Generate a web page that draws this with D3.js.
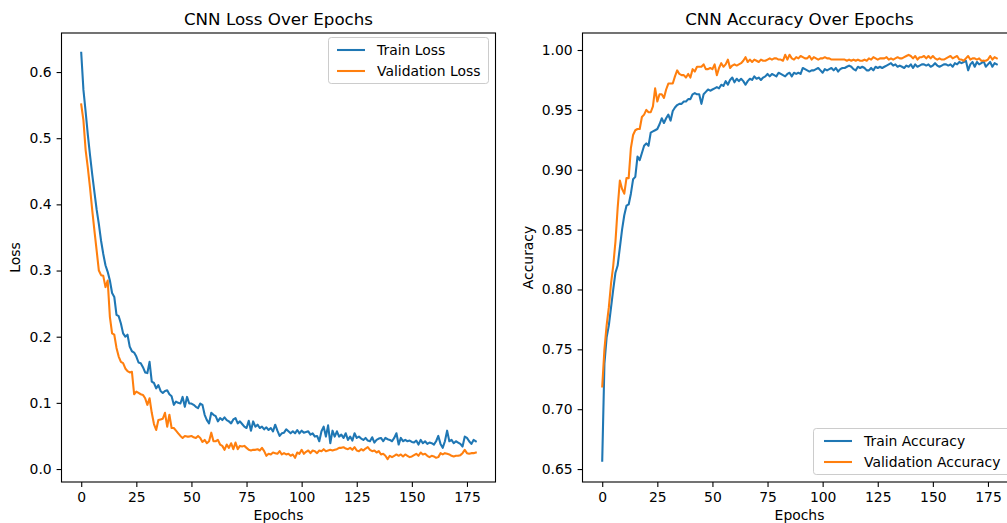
<!DOCTYPE html>
<html>
<head>
<meta charset="utf-8">
<script src="https://cdn.jsdelivr.net/npm/d3@7"></script>
<style>
  html, body { margin: 0; padding: 0; background: #fff; }
  svg { display: block; font-family: "DejaVu Sans", sans-serif; }
</style>
</head>
<body>
<svg id="chart" width="1007" height="523"></svg>
<script>
// Per-epoch training history of the CNN (epochs 0..179)
const trainLoss = [
0.629,0.573,0.540,0.505,0.474,0.445,0.418,0.392,0.370,0.345,
0.325,0.308,0.298,0.285,0.266,0.260,0.233,0.231,0.220,0.205,
0.200,0.203,0.185,0.178,0.176,0.170,0.161,0.160,0.154,0.146,
0.145,0.162,0.132,0.130,0.122,0.127,0.118,0.115,0.118,0.119,
0.113,0.110,0.097,0.102,0.100,0.099,0.109,0.094,0.109,0.099,
0.099,0.097,0.094,0.092,0.099,0.097,0.082,0.074,0.069,0.085,
0.082,0.080,0.072,0.077,0.074,0.078,0.074,0.072,0.069,0.075,
0.077,0.069,0.072,0.068,0.064,0.062,0.073,0.058,0.072,0.064,
0.067,0.062,0.064,0.060,0.063,0.059,0.062,0.057,0.067,0.058,
0.050,0.054,0.055,0.060,0.057,0.054,0.057,0.054,0.059,0.054,
0.058,0.055,0.056,0.057,0.052,0.054,0.049,0.050,0.042,0.057,
0.064,0.049,0.066,0.039,0.058,0.049,0.057,0.049,0.052,0.047,
0.054,0.044,0.049,0.043,0.054,0.047,0.049,0.046,0.044,0.047,
0.043,0.042,0.048,0.040,0.044,0.046,0.047,0.042,0.047,0.045,
0.044,0.042,0.047,0.054,0.037,0.047,0.042,0.044,0.042,0.043,
0.041,0.040,0.043,0.037,0.044,0.039,0.042,0.038,0.040,0.039,
0.037,0.042,0.050,0.038,0.032,0.042,0.058,0.042,0.044,0.039,
0.042,0.040,0.038,0.034,0.049,0.047,0.042,0.038,0.044,0.042
];
const valLoss = [
0.551,0.527,0.482,0.455,0.425,0.391,0.360,0.330,0.300,0.293,
0.292,0.275,0.285,0.230,0.205,0.203,0.183,0.170,0.162,0.160,
0.152,0.148,0.146,0.147,0.113,0.117,0.115,0.113,0.112,0.107,
0.097,0.107,0.085,0.068,0.059,0.074,0.075,0.076,0.085,0.064,
0.082,0.062,0.062,0.058,0.054,0.050,0.047,0.050,0.049,0.049,
0.050,0.048,0.047,0.050,0.047,0.041,0.044,0.039,0.042,0.055,
0.042,0.042,0.044,0.037,0.035,0.029,0.037,0.032,0.039,0.030,
0.040,0.030,0.035,0.034,0.035,0.032,0.029,0.028,0.029,0.029,
0.030,0.028,0.032,0.027,0.020,0.023,0.022,0.025,0.024,0.023,
0.027,0.022,0.024,0.022,0.023,0.020,0.022,0.017,0.025,0.023,
0.029,0.023,0.026,0.028,0.024,0.028,0.027,0.024,0.028,0.027,
0.030,0.027,0.028,0.029,0.028,0.029,0.030,0.032,0.032,0.033,
0.031,0.030,0.032,0.029,0.033,0.028,0.027,0.030,0.028,0.031,
0.033,0.029,0.027,0.028,0.025,0.027,0.022,0.023,0.020,0.015,
0.020,0.018,0.020,0.022,0.020,0.022,0.019,0.022,0.020,0.018,
0.019,0.021,0.023,0.020,0.025,0.022,0.023,0.020,0.018,0.020,
0.019,0.017,0.018,0.024,0.022,0.024,0.023,0.022,0.020,0.019,
0.020,0.020,0.021,0.024,0.029,0.024,0.023,0.024,0.024,0.025
];
const trainAcc = [
0.657,0.738,0.760,0.770,0.785,0.800,0.814,0.820,0.835,0.850,
0.862,0.870,0.871,0.880,0.892,0.894,0.911,0.908,0.914,0.920,
0.922,0.920,0.931,0.932,0.933,0.934,0.938,0.943,0.939,0.943,
0.946,0.941,0.949,0.952,0.954,0.955,0.955,0.957,0.957,0.959,
0.959,0.963,0.964,0.963,0.963,0.955,0.963,0.965,0.967,0.966,
0.967,0.968,0.969,0.968,0.971,0.970,0.974,0.971,0.975,0.977,
0.973,0.976,0.974,0.976,0.974,0.971,0.974,0.976,0.975,0.978,
0.976,0.977,0.975,0.977,0.978,0.980,0.978,0.980,0.979,0.978,
0.981,0.980,0.979,0.978,0.980,0.981,0.978,0.981,0.980,0.981,
0.980,0.985,0.984,0.983,0.982,0.983,0.983,0.984,0.985,0.983,
0.981,0.984,0.983,0.984,0.985,0.983,0.985,0.982,0.984,0.985,
0.985,0.986,0.987,0.986,0.984,0.983,0.986,0.985,0.986,0.985,
0.983,0.983,0.985,0.983,0.986,0.985,0.986,0.985,0.986,0.987,
0.988,0.989,0.987,0.988,0.986,0.987,0.986,0.985,0.987,0.986,
0.988,0.985,0.988,0.986,0.987,0.988,0.988,0.987,0.988,0.986,
0.987,0.989,0.987,0.986,0.987,0.988,0.988,0.987,0.988,0.986,
0.989,0.988,0.990,0.989,0.990,0.991,0.983,0.988,0.990,0.986,
0.990,0.988,0.989,0.991,0.986,0.988,0.990,0.986,0.989,0.988
];
const valAcc = [
0.719,0.750,0.770,0.785,0.805,0.820,0.840,0.868,0.891,0.884,
0.880,0.893,0.893,0.918,0.929,0.933,0.934,0.934,0.944,0.946,
0.950,0.948,0.948,0.953,0.968,0.957,0.963,0.963,0.960,0.967,
0.972,0.972,0.972,0.978,0.983,0.980,0.979,0.979,0.977,0.980,
0.977,0.984,0.982,0.986,0.986,0.986,0.988,0.984,0.984,0.985,
0.984,0.988,0.979,0.985,0.989,0.986,0.988,0.992,0.985,0.987,
0.988,0.987,0.988,0.989,0.991,0.994,0.990,0.992,0.990,0.992,
0.991,0.990,0.992,0.991,0.991,0.992,0.993,0.992,0.993,0.993,
0.992,0.992,0.991,0.996,0.992,0.996,0.993,0.992,0.994,0.993,
0.995,0.994,0.993,0.993,0.995,0.992,0.994,0.993,0.992,0.993,
0.993,0.994,0.993,0.993,0.992,0.992,0.992,0.992,0.992,0.992,
0.992,0.991,0.992,0.991,0.992,0.991,0.992,0.991,0.991,0.992,
0.991,0.993,0.992,0.994,0.993,0.992,0.993,0.993,0.993,0.994,
0.992,0.993,0.992,0.993,0.994,0.993,0.993,0.994,0.995,0.996,
0.995,0.993,0.995,0.992,0.994,0.994,0.995,0.993,0.995,0.993,
0.995,0.993,0.992,0.993,0.992,0.992,0.993,0.994,0.995,0.993,
0.994,0.995,0.992,0.992,0.991,0.993,0.995,0.992,0.993,0.993,
0.992,0.993,0.991,0.991,0.991,0.992,0.995,0.992,0.994,0.993
];

const epochTicks = [0, 25, 50, 75, 100, 125, 150, 175];
const lossTicks = [0.0, 0.1, 0.2, 0.3, 0.4, 0.5, 0.6];
const accTicks = [0.65, 0.70, 0.75, 0.80, 0.85, 0.90, 0.95, 1.00];

const colors = { train: "#1f77b4", val: "#ff7f0e" };
const FS = 13.9;          // 10pt at 100 dpi
const TITLE_FS = 16.7;    // 12pt
const TICK_LEN = 4.9;
const TICK_PAD = 4.9;

const svg = d3.select("#chart");

function drawPanel(opts) {
  const { left, right, top, bottom, yDomain, yTicks, yFormat,
          series, title, yLabel, yLabelX, legend } = opts;
  const n = series[0].values.length;
  const x = d3.scaleLinear().domain([-(n - 1) * 0.05, (n - 1) * 1.05]).range([left, right]);
  const y = d3.scaleLinear().domain(yDomain).range([bottom, top]);

  const g = svg.append("g");

  // training curves
  const line = d3.line().x((d, i) => x(i)).y(d => y(d));
  series.forEach(s => {
    g.append("path")
      .datum(s.values)
      .attr("fill", "none")
      .attr("stroke", s.color)
      .attr("stroke-width", 2.08)
      .attr("stroke-linejoin", "round")
      .attr("stroke-linecap", "square")
      .attr("d", line);
  });

  // axes
  const xAxis = d3.axisBottom(x).tickValues(epochTicks).tickFormat(d3.format("d"))
    .tickSize(TICK_LEN).tickSizeOuter(0).tickPadding(TICK_PAD);
  const yAxis = d3.axisLeft(y).tickValues(yTicks).tickFormat(d3.format(yFormat))
    .tickSize(TICK_LEN).tickSizeOuter(0).tickPadding(TICK_PAD);

  const gx = g.append("g").attr("transform", `translate(0,${bottom})`).call(xAxis);
  const gy = g.append("g").attr("transform", `translate(${left},0)`).call(yAxis);
  [gx, gy].forEach(a => {
    a.select(".domain").remove();
    a.selectAll(".tick line").attr("stroke", "#000").attr("stroke-width", 1.1);
    a.selectAll(".tick text").attr("fill", "#000").attr("font-size", FS)
      .attr("font-family", "DejaVu Sans");
  });

  // frame
  g.append("rect")
    .attr("x", left).attr("y", top)
    .attr("width", right - left).attr("height", bottom - top)
    .attr("fill", "none").attr("stroke", "#000").attr("stroke-width", 1.1);

  // title and axis labels
  g.append("text")
    .attr("x", (left + right) / 2).attr("y", top - 8.3)
    .attr("text-anchor", "middle").attr("font-size", TITLE_FS).attr("fill", "#000")
    .text(title);
  g.append("text")
    .attr("x", (left + right) / 2).attr("y", bottom + 38)
    .attr("text-anchor", "middle").attr("font-size", FS).attr("fill", "#000")
    .text("Epochs");
  g.append("text")
    .attr("transform", `translate(${yLabelX},${(top + bottom) / 2}) rotate(-90)`)
    .attr("dy", "0.35em")
    .attr("text-anchor", "middle").attr("font-size", FS).attr("fill", "#000")
    .text(yLabel);

  // legend
  const lg = g.append("g").attr("transform", `translate(${legend.x},${legend.y})`);
  lg.append("rect")
    .attr("x", 0).attr("y", 0).attr("width", legend.w).attr("height", 46)
    .attr("rx", 2.8).attr("ry", 2.8)
    .attr("fill", "#fff").attr("fill-opacity", 0.8)
    .attr("stroke", "#cccccc").attr("stroke-width", 1);
  series.forEach((s, i) => {
    const cy = 12.5 + i * 21;
    lg.append("line")
      .attr("x1", legend.hx).attr("x2", legend.hx + 28).attr("y1", cy).attr("y2", cy)
      .attr("stroke", s.color).attr("stroke-width", 2.08);
    lg.append("text")
      .attr("x", legend.hx + 40).attr("y", cy).attr("dy", "0.36em")
      .attr("font-size", FS).attr("fill", "#000")
      .text(s.label);
  });
}

drawPanel({
  left: 61.5, right: 495.5, top: 33, bottom: 482,
  yDomain: [-0.0196, 0.659], yTicks: lossTicks, yFormat: ".1f",
  series: [
    { label: "Train Loss", values: trainLoss, color: colors.train },
    { label: "Validation Loss", values: valLoss, color: colors.val }
  ],
  title: "CNN Loss Over Epochs", yLabel: "Loss", yLabelX: 15,
  legend: { x: 328.5, y: 37.5, w: 160, hx: 8.5 }
});

drawPanel({
  left: 582.5, right: 1016.5, top: 33, bottom: 482,
  yDomain: [0.6392, 1.0142], yTicks: accTicks, yFormat: ".2f",
  series: [
    { label: "Train Accuracy", values: trainAcc, color: colors.train },
    { label: "Validation Accuracy", values: valAcc, color: colors.val }
  ],
  title: "CNN Accuracy Over Epochs", yLabel: "Accuracy", yLabelX: 528,
  legend: { x: 813.5, y: 428.5, w: 200, hx: 10.5 }
});
</script>
</body>
</html>
